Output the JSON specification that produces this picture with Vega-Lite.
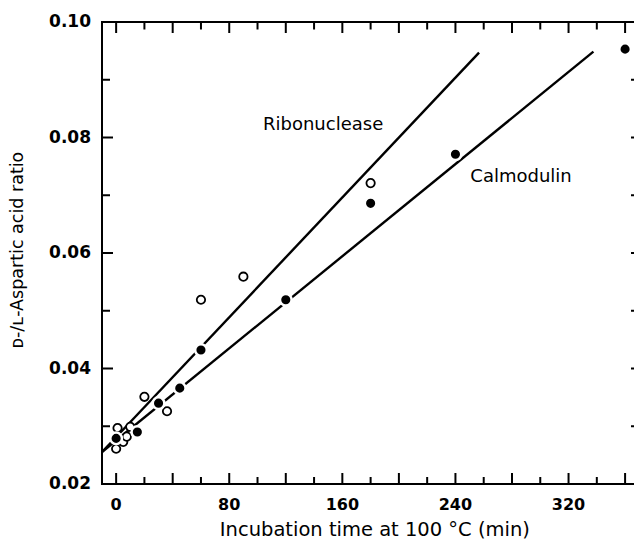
{
  "$schema": "https://vega.github.io/schema/vega-lite/v6.json",
  "width": 532,
  "height": 462,
  "autosize": {"type": "none"},
  "padding": {"left": 102, "top": 22, "right": 0, "bottom": 65},
  "background": "white",
  "config": {
    "view": {"stroke": null, "fill": null},
    "font": "DejaVu Sans"
  },
  "datasets": {
    "calm": [
      {"time": 0, "ratio": 0.0279},
      {"time": 15, "ratio": 0.0290},
      {"time": 30, "ratio": 0.0340},
      {"time": 45, "ratio": 0.0366},
      {"time": 60, "ratio": 0.0432},
      {"time": 120, "ratio": 0.0519},
      {"time": 180, "ratio": 0.0686},
      {"time": 240, "ratio": 0.0771},
      {"time": 360, "ratio": 0.0953}
    ],
    "ribo": [
      {"time": 0, "ratio": 0.0261},
      {"time": 5, "ratio": 0.0273},
      {"time": 7.5, "ratio": 0.0282},
      {"time": 1, "ratio": 0.0297},
      {"time": 10, "ratio": 0.0299},
      {"time": 20, "ratio": 0.0351},
      {"time": 36, "ratio": 0.0326},
      {"time": 60, "ratio": 0.0519},
      {"time": 90, "ratio": 0.0559},
      {"time": 180, "ratio": 0.0721}
    ],
    "fits": [
      {"series": "Ribonuclease", "time": -10, "ratio": 0.02554},
      {"series": "Ribonuclease", "time": 256.7, "ratio": 0.09469},
      {"series": "Calmodulin", "time": -10, "ratio": 0.02554},
      {"series": "Calmodulin", "time": 337.6, "ratio": 0.09486}
    ],
    "labels": [
      {"text": "Ribonuclease", "time": 146.4, "ratio": 0.0822},
      {"text": "Calmodulin", "time": 286.4, "ratio": 0.0732}
    ],
    "xLabels": [{"time": 0}, {"time": 80}, {"time": 160}, {"time": 240}, {"time": 320}],
    "yLabels": [{"ratio": 0.02}, {"ratio": 0.04}, {"ratio": 0.06}, {"ratio": 0.08}, {"ratio": 0.10}],
    "xMajor": [{"time": 0}, {"time": 40}, {"time": 80}, {"time": 120}, {"time": 160}, {"time": 200}, {"time": 240}, {"time": 280}, {"time": 320}, {"time": 360}],
    "xMinor": [{"time": 20}, {"time": 60}, {"time": 100}, {"time": 140}, {"time": 180}, {"time": 220}, {"time": 260}, {"time": 300}, {"time": 340}],
    "yMajor": [{"ratio": 0.04}, {"ratio": 0.06}, {"ratio": 0.08}],
    "yMinor": [{"ratio": 0.03}, {"ratio": 0.05}, {"ratio": 0.07}, {"ratio": 0.09}],
    "yRight": [{"ratio": 0.03}, {"ratio": 0.04}, {"ratio": 0.05}, {"ratio": 0.06}, {"ratio": 0.07}, {"ratio": 0.08}, {"ratio": 0.09}]
  },
  "layer": [
    {
      "data": {"name": "xMajor"},
      "mark": {"type": "tick", "orient": "vertical", "color": "black", "size": 11, "thickness": 2, "yOffset": -5.5, "opacity": 1},
      "encoding": {
        "x": {"field": "time", "type": "quantitative",
          "scale": {"domain": [-10, 366.3], "nice": false, "zero": false}, "axis": null},
        "y": {"datum": 0.02, "type": "quantitative",
          "scale": {"domain": [0.02, 0.10], "nice": false, "zero": false}, "axis": null}
      }
    },
    {
      "data": {"name": "xMinor"},
      "mark": {"type": "tick", "orient": "vertical", "color": "black", "size": 7, "thickness": 2, "yOffset": -3.5, "opacity": 1},
      "encoding": {
        "x": {"field": "time", "type": "quantitative", "axis": null},
        "y": {"datum": 0.02, "type": "quantitative", "axis": null}
      }
    },
    {
      "data": {"name": "xMajor"},
      "mark": {"type": "tick", "orient": "vertical", "color": "black", "size": 11, "thickness": 2, "yOffset": 5.5, "opacity": 1},
      "encoding": {
        "x": {"field": "time", "type": "quantitative", "axis": null},
        "y": {"datum": 0.10, "type": "quantitative", "axis": null}
      }
    },
    {
      "data": {"name": "xMinor"},
      "mark": {"type": "tick", "orient": "vertical", "color": "black", "size": 7.5, "thickness": 2, "yOffset": 3.75, "opacity": 1},
      "encoding": {
        "x": {"field": "time", "type": "quantitative", "axis": null},
        "y": {"datum": 0.10, "type": "quantitative", "axis": null}
      }
    },
    {
      "data": {"name": "yMajor"},
      "mark": {"type": "tick", "orient": "horizontal", "color": "black", "size": 11, "thickness": 2, "xOffset": 5.5, "opacity": 1},
      "encoding": {
        "y": {"field": "ratio", "type": "quantitative", "axis": null},
        "x": {"datum": -10, "type": "quantitative", "axis": null}
      }
    },
    {
      "data": {"name": "yMinor"},
      "mark": {"type": "tick", "orient": "horizontal", "color": "black", "size": 8, "thickness": 2, "xOffset": 4, "opacity": 1},
      "encoding": {
        "y": {"field": "ratio", "type": "quantitative", "axis": null},
        "x": {"datum": -10, "type": "quantitative", "axis": null}
      }
    },
    {
      "data": {"name": "yRight"},
      "mark": {"type": "tick", "orient": "horizontal", "color": "black", "size": 6, "thickness": 2, "opacity": 1},
      "encoding": {
        "y": {"field": "ratio", "type": "quantitative", "axis": null},
        "x": {"datum": 366.3, "type": "quantitative", "axis": null}
      }
    },
    {
      "data": {"values": [{"edge": 0.10}, {"edge": 0.02}]},
      "mark": {"type": "rule", "color": "black", "strokeWidth": 2, "strokeCap": "square"},
      "encoding": {"y": {"field": "edge", "type": "quantitative", "axis": null}}
    },
    {
      "data": {"values": [{"edge": -10}]},
      "mark": {"type": "rule", "color": "black", "strokeWidth": 2, "strokeCap": "square"},
      "encoding": {"x": {"field": "edge", "type": "quantitative", "axis": null}}
    },
    {
      "data": {"name": "fits"},
      "mark": {"type": "line", "color": "black", "strokeWidth": 2.4},
      "encoding": {
        "x": {"field": "time", "type": "quantitative", "axis": null},
        "y": {"field": "ratio", "type": "quantitative", "axis": null},
        "detail": {"field": "series", "type": "nominal"}
      }
    },
    {
      "data": {"name": "ribo"},
      "mark": {"type": "point", "shape": "circle", "fill": "white", "stroke": "black", "strokeWidth": 1.8, "size": 70, "opacity": 1},
      "encoding": {
        "x": {"field": "time", "type": "quantitative", "axis": null},
        "y": {"field": "ratio", "type": "quantitative", "axis": null}
      }
    },
    {
      "data": {"name": "calm"},
      "mark": {"type": "circle", "fill": "black", "stroke": "white", "strokeWidth": 2.5, "size": 135, "opacity": 1},
      "encoding": {
        "x": {"field": "time", "type": "quantitative", "axis": null},
        "y": {"field": "ratio", "type": "quantitative", "axis": null}
      }
    },
    {
      "data": {"name": "labels"},
      "mark": {"type": "text", "font": "DejaVu Sans", "fontSize": 18, "color": "black", "align": "center", "baseline": "middle"},
      "encoding": {
        "x": {"field": "time", "type": "quantitative", "axis": null},
        "y": {"field": "ratio", "type": "quantitative", "axis": null},
        "text": {"field": "text"}
      }
    },
    {
      "data": {"name": "xLabels"},
      "mark": {"type": "text", "font": "DejaVu Sans", "fontSize": 16, "fontWeight": "bold", "color": "black", "align": "center", "baseline": "top", "dy": 13},
      "encoding": {
        "x": {"field": "time", "type": "quantitative", "axis": null},
        "y": {"datum": 0.02, "type": "quantitative", "axis": null},
        "text": {"field": "time", "type": "quantitative", "format": "d"}
      }
    },
    {
      "data": {"name": "yLabels"},
      "mark": {"type": "text", "font": "DejaVu Sans", "fontSize": 17, "fontWeight": "bold", "color": "black", "align": "right", "baseline": "middle", "dx": -11},
      "encoding": {
        "y": {"field": "ratio", "type": "quantitative", "axis": null},
        "x": {"datum": -10, "type": "quantitative", "axis": null},
        "text": {"field": "ratio", "type": "quantitative", "format": ".2f"}
      }
    },
    {
      "data": {"values": [{"title": "Incubation time at 100 °C (min)"}]},
      "mark": {"type": "text", "font": "DejaVu Sans", "fontSize": 19.5, "color": "black", "align": "center", "baseline": "middle", "dy": 46},
      "encoding": {
        "x": {"datum": 183, "type": "quantitative", "axis": null},
        "y": {"datum": 0.02, "type": "quantitative", "axis": null},
        "text": {"field": "title"}
      }
    },
    {
      "data": {"values": [{"title": "ᴅ-/ʟ-Aspartic acid ratio"}]},
      "mark": {"type": "text", "font": "DejaVu Sans", "fontSize": 17.5, "color": "black", "align": "center", "baseline": "middle", "angle": 270, "dy": -84},
      "encoding": {
        "x": {"datum": -10, "type": "quantitative", "axis": null},
        "y": {"datum": 0.0605, "type": "quantitative", "axis": null},
        "text": {"field": "title"}
      }
    }
  ]
}
